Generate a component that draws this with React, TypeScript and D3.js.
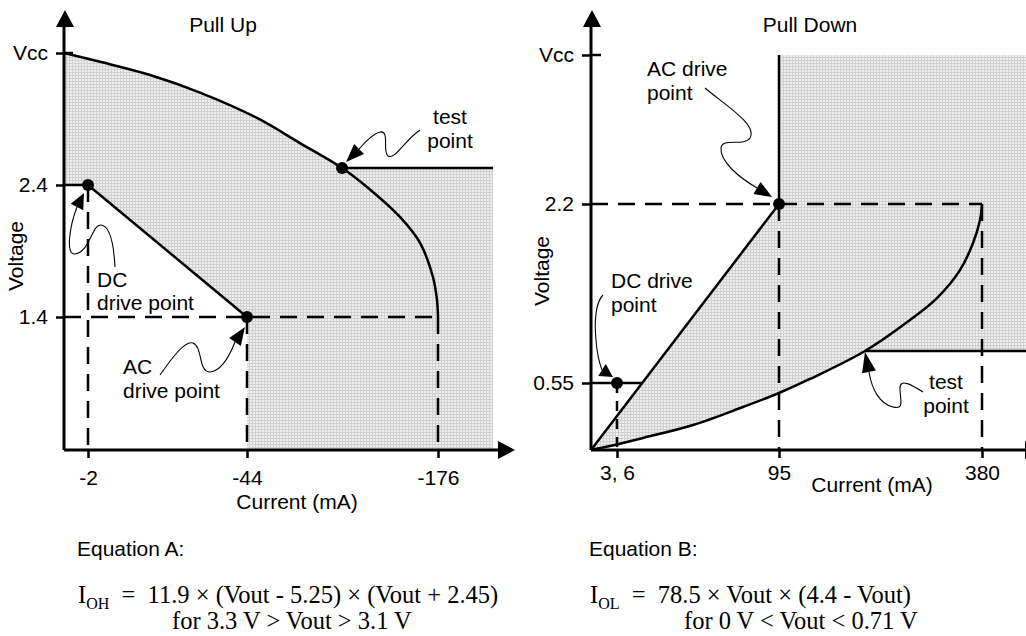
import React, { useEffect, useRef } from 'react'
import * as d3 from 'd3'

// Pull Up (left panel): current in mA, voltage in V
const upCurrentTicks = [-2, -44, -176]
const upVoltageTicks = [1.4, 2.4, 3.3]
const upVoltageLabels = ['1.4', '2.4', 'Vcc']
const upCurveCurrent = [0, -5.2, -18.4, -31.6, -50.9, -80.6, -109.7, -126.9, -149.7, -163.6, -172.5, -175.3, -176]
const upCurveVoltage = [3.3, 3.24, 3.15, 3.03, 2.857, 2.686, 2.516, 2.385, 2.158, 1.961, 1.703, 1.529, 1.4]
const upDcPoint = [-2, 2.4]
const upAcPoint = [-44, 1.4]
const upTestPoint = [-109.7, 2.516]
const upEdgeCurrent = -214

// Pull Down (right panel)
const downCurrentTicks = [6, 95, 380]
const downCurrentLabels = ['3, 6', '95', '380']
const downVoltageTicks = [0.55, 2.2, 3.3]
const downVoltageLabels = ['0.55', '2.2', 'Vcc']
const downCurveCurrent = [0, 4.4, 20.3, 47.8, 75.2, 95, 138.5, 215.7, 278.9, 316.8, 349.1, 367.4, 377.2, 380]
const downCurveVoltage = [0, 0.033, 0.099, 0.205, 0.353, 0.468, 0.587, 0.845, 1.131, 1.333, 1.591, 1.84, 2.052, 2.2]
const downDcPoint = [6, 0.55]
const downAcPoint = [95, 2.2]
const downTestPoint = [215.7, 0.845]
const downEdgeCurrent = 445

const SANS = '"Liberation Sans", Arial, sans-serif'
const SERIF = '"Liberation Serif", "Times New Roman", serif'
const DASH = '17,10'
const FS = 21

type Sel = d3.Selection<any, unknown, null, undefined>

function label(g: Sel, x: number, y: number, s: string, anchor = 'start', size = FS) {
  return g.append('text').attr('x', x).attr('y', y).attr('text-anchor', anchor)
    .attr('font-size', size).attr('font-family', SANS).attr('fill', '#000').text(s)
}

function line(g: Sel, x1: number, y1: number, x2: number, y2: number, dashed = false, w = 2.5) {
  const l = g.append('line').attr('x1', x1).attr('y1', y1).attr('x2', x2).attr('y2', y2)
    .attr('stroke', '#000').attr('stroke-width', w)
  if (dashed) l.attr('stroke-dasharray', DASH)
  return l
}

// squiggly pointer: path relative to the point, arrowhead ends at tip
function pointer(g: Sel, px: number, py: number, d: string, end: number[], tip: number[]) {
  const s = g.append('g').attr('transform', `translate(${px},${py})`)
  s.append('path').attr('d', d).attr('fill', 'none').attr('stroke', '#000').attr('stroke-width', 1.1)
  const dx = tip[0] - end[0], dy = tip[1] - end[1]
  const len = Math.hypot(dx, dy)
  const ux = dx / len, uy = dy / len
  const hw = 7
  const pts = [
    [tip[0], tip[1]],
    [end[0] - uy * hw, end[1] + ux * hw],
    [end[0] + uy * hw, end[1] - ux * hw],
  ]
  s.append('polygon').attr('points', pts.map(p => p.join(',')).join(' ')).attr('fill', '#000')
}

function arrowUp(g: Sel, x: number, top: number) {
  g.append('polygon').attr('points', `${x},${top} ${x - 9},${top + 17} ${x + 9},${top + 17}`).attr('fill', '#000')
}
function arrowRight(g: Sel, right: number, y: number) {
  g.append('polygon').attr('points', `${right},${y} ${right - 17},${y - 9} ${right - 17},${y + 9}`).attr('fill', '#000')
}

function styleAxis(ax: Sel) {
  ax.select('.domain').remove()
  ax.selectAll('line').attr('stroke', '#000').attr('stroke-width', 2.5)
  ax.selectAll('text').attr('font-size', FS).attr('font-family', SANS).attr('fill', '#000')
}

export default function App() {
  const ref = useRef<SVGSVGElement>(null)

  useEffect(() => {
    const svg = d3.select(ref.current)
    svg.selectAll('*').remove()

    const defs = svg.append('defs')
    const pat = defs.append('pattern').attr('id', 'shade').attr('width', 3).attr('height', 3)
      .attr('patternUnits', 'userSpaceOnUse')
    pat.append('rect').attr('width', 3).attr('height', 3).attr('fill', '#eeeeee')
    pat.append('rect').attr('width', 3).attr('height', 1).attr('fill', '#d0d0d0')
    pat.append('rect').attr('width', 1).attr('height', 3).attr('fill', '#d0d0d0')

    // ---------- Pull Up ----------
    {
      const g = svg.append('g')
      const x = d3.scaleLinear().domain([0, -2, -44, -176]).range([64, 88, 247, 438])
      const y = d3.scaleLinear().domain([0, 1.4, 2.4, 3.3]).range([450, 317, 185, 53])
      const curve = upCurveCurrent.map((c, i) => [x(c), y(upCurveVoltage[i])] as [number, number])
      const gen = d3.line().curve(d3.curveCatmullRom.alpha(0.5))
      const testIdx = upCurveCurrent.indexOf(upTestPoint[0])

      const shadePts: [number, number][] = [
        [x(upEdgeCurrent), y(upTestPoint[1])],
        [x(upEdgeCurrent), y(0)],
        [x(upAcPoint[0]), y(0)],
        [x(upAcPoint[0]), y(upAcPoint[1])],
        [x(upDcPoint[0]), y(upDcPoint[1])],
        [x(0), y(upDcPoint[1])],
      ]
      const shadePath = gen(curve.slice(0, testIdx + 1)) + shadePts.map(p => `L${p[0]},${p[1]}`).join('') + 'Z'
      g.append('path').attr('d', shadePath).attr('fill', 'url(#shade)')

      // dashed guides
      line(g, x(0), y(upAcPoint[1]), x(-176), y(upAcPoint[1]), true)
      line(g, x(upDcPoint[0]), y(upDcPoint[1]), x(upDcPoint[0]), y(0), true)
      line(g, x(upAcPoint[0]), y(upAcPoint[1]), x(upAcPoint[0]), y(0), true)
      line(g, x(-176), y(upAcPoint[1]), x(-176), y(0), true)

      // solid lines
      line(g, x(0), y(upDcPoint[1]), x(upDcPoint[0]), y(upDcPoint[1]))
      line(g, x(upDcPoint[0]), y(upDcPoint[1]), x(upAcPoint[0]), y(upAcPoint[1]))
      line(g, x(upTestPoint[0]), y(upTestPoint[1]), x(upEdgeCurrent), y(upTestPoint[1]))
      g.append('path').attr('d', gen(curve)).attr('fill', 'none').attr('stroke', '#000').attr('stroke-width', 2.5)

      // axes
      const ax = g.append('g').attr('transform', `translate(0,${y(0)})`)
        .call(d3.axisBottom(x).tickValues(upCurrentTicks).tickSize(8).tickPadding(12).tickFormat(d => String(d)))
      styleAxis(ax)
      const ay = g.append('g').attr('transform', `translate(${x(0)},0)`)
        .call(d3.axisLeft(y).tickValues(upVoltageTicks).tickSize(8).tickPadding(8)
          .tickFormat((d, i) => upVoltageLabels[i]))
      styleAxis(ay)
      line(g, x(0), y(3.3), x(0) + 9, y(3.3))
      line(g, x(0), y(0), x(0), 24, false, 3)
      line(g, x(0), y(0), 500, y(0), false, 3)
      arrowUp(g, x(0) + 1, 10)
      arrowRight(g, 515, y(0))

      // dots
      for (const p of [upDcPoint, upAcPoint, upTestPoint])
        g.append('circle').attr('cx', x(p[0])).attr('cy', y(p[1])).attr('r', 6).attr('fill', '#000')

      // text
      label(g, 223, 32, 'Pull Up', 'middle')
      label(g, 297, 509, 'Current (mA)', 'middle')
      label(g, 0, 0, 'Voltage', 'middle').attr('transform', 'translate(23,256) rotate(-90)')
      label(g, 450, 124, 'test', 'middle')
      label(g, 450, 148, 'point', 'middle')
      label(g, 97, 287, 'DC')
      label(g, 97, 310, 'drive point')
      label(g, 123, 374, 'AC')
      label(g, 123, 398, 'drive point')

      // pointers
      const t = [x(upTestPoint[0]), y(upTestPoint[1])]
      pointer(g, t[0], t[1], 'M78,-38 C63,-28 53,-8 46,-12 C40,-16 48,-38 38,-36 C30,-34 23,-26 17,-19', [17, -19], [4, -6])
      const dc = [x(upDcPoint[0]), y(upDcPoint[1])]
      pointer(g, dc[0], dc[1], 'M27,82 C26,63 23,41 13,40 C4,39 2,67 -13,69 C-23,70 -18,40 -11,22', [-11, 22], [-4, 8])
      const ac = [x(upAcPoint[0]), y(upAcPoint[1])]
      pointer(g, ac[0], ac[1], 'M-87,58 C-75,41 -62,23 -54,26 C-44,30 -49,55 -37,55 C-27,54 -19,43 -12,25', [-12, 25], [-2, 10])
    }

    // ---------- Pull Down ----------
    {
      const g = svg.append('g')
      const x = d3.scaleLinear().domain([0, 6, 95, 380]).range([591, 617, 779, 982])
      const y = d3.scaleLinear().domain([0, 0.55, 2.2, 3.3]).range([450, 383, 204, 55])
      const curve = downCurveCurrent.map((c, i) => [x(c), y(downCurveVoltage[i])] as [number, number])
      const gen = d3.line().curve(d3.curveCatmullRom.alpha(0.5))
      const testIdx = downCurveCurrent.indexOf(downTestPoint[0])

      const outline: [number, number][] = [
        [x(0), y(0)],
        [x(downAcPoint[0]), y(downAcPoint[1])],
        [x(downAcPoint[0]), y(3.3)],
        [x(downEdgeCurrent), y(3.3)],
        [x(downEdgeCurrent), y(downTestPoint[1])],
      ]
      const back = gen(curve.slice(0, testIdx + 1).reverse())!.replace(/^M/, 'L')
      const shadePath = 'M' + outline.map(p => p.join(',')).join('L') + back + 'Z'
      g.append('path').attr('d', shadePath).attr('fill', 'url(#shade)')

      // dashed guides
      line(g, x(0), y(downAcPoint[1]), x(380), y(downAcPoint[1]), true)
      line(g, x(downAcPoint[0]), y(downAcPoint[1]), x(downAcPoint[0]), y(0), true)
      line(g, x(380), y(downAcPoint[1]), x(380), y(0), true)
      line(g, x(downDcPoint[0]), y(downDcPoint[1]), x(downDcPoint[0]), y(0), true).attr('stroke-dasharray', '10,8')

      // solid lines
      const ix = x(0) + (y(downDcPoint[1]) - y(0)) / (y(downAcPoint[1]) - y(0)) * (x(downAcPoint[0]) - x(0))
      line(g, x(0), y(downDcPoint[1]), ix, y(downDcPoint[1]))
      line(g, x(0), y(0), x(downAcPoint[0]), y(downAcPoint[1]))
      line(g, x(downAcPoint[0]), y(downAcPoint[1]), x(downAcPoint[0]), y(3.3))
      line(g, x(downTestPoint[0]), y(downTestPoint[1]), x(downEdgeCurrent), y(downTestPoint[1]))
      g.append('path').attr('d', gen(curve)).attr('fill', 'none').attr('stroke', '#000').attr('stroke-width', 2.5)

      // axes
      const ax = g.append('g').attr('transform', `translate(0,${y(0)})`)
        .call(d3.axisBottom(x).tickValues(downCurrentTicks).tickSize(8).tickPadding(7)
          .tickFormat((d, i) => downCurrentLabels[i]))
      styleAxis(ax)
      const ay = g.append('g').attr('transform', `translate(${x(0)},0)`)
        .call(d3.axisLeft(y).tickValues(downVoltageTicks).tickSize(9).tickPadding(8)
          .tickFormat((d, i) => downVoltageLabels[i]))
      styleAxis(ay)
      line(g, x(0), y(3.3), x(0) + 10, y(3.3))
      line(g, x(0), y(0), x(0), 24, false, 3)
      line(g, x(0), y(0), 1030, y(0), false, 3)
      arrowUp(g, x(0) + 1, 10)
      arrowRight(g, 1042, y(0))

      for (const p of [downDcPoint, downAcPoint])
        g.append('circle').attr('cx', x(p[0])).attr('cy', y(p[1])).attr('r', 6).attr('fill', '#000')

      label(g, 810, 32, 'Pull Down', 'middle')
      label(g, 872, 492, 'Current (mA)', 'middle')
      label(g, 0, 0, 'Voltage', 'middle').attr('transform', 'translate(549,271) rotate(-90)')
      label(g, 647, 76, 'AC drive')
      label(g, 647, 100, 'point')
      label(g, 611, 288, 'DC drive')
      label(g, 611, 312, 'point')
      label(g, 946, 389, 'test', 'middle')
      label(g, 946, 413, 'point', 'middle')

      const ac = [x(downAcPoint[0]), y(downAcPoint[1])]
      pointer(g, ac[0], ac[1], 'M-74,-116 C-54,-99 -21,-79 -29,-66 C-35,-57 -57,-67 -58,-56 C-59,-42 -39,-26 -22,-16', [-22, -16], [-7, -7])
      const dc = [x(downDcPoint[0]), y(downDcPoint[1])]
      pointer(g, dc[0], dc[1], 'M-14,-88 C-21,-81 -23,-63 -21,-43 C-20,-28 -18,-21 -15,-13', [-15, -13], [-4, -6])
      const t = [x(downTestPoint[0]), y(downTestPoint[1])]
      pointer(g, t[0], t[1], 'M58,41 C47,34 35,27 35,37 C35,49 40,59 28,56 C15,53 7,39 4,21', [4, 21], [0, 1])
    }

    // ---------- equations ----------
    const eq = (x0: number, title: string, sub: string, body: string, cond: string, condX: number) => {
      label(svg, x0, 556, title)
      const t = svg.append('text').attr('x', x0 + 1).attr('y', 603).attr('font-family', SERIF)
        .attr('font-size', 24.5).style('white-space', 'pre')
      t.append('tspan').text('I')
      t.append('tspan').attr('dy', 6).attr('font-size', 16).text(sub)
      t.append('tspan').attr('dy', -6).text(body)
      svg.append('text').attr('x', condX).attr('y', 629).attr('font-family', SERIF)
        .attr('font-size', 24.5).style('white-space', 'pre').text(cond)
    }
    eq(77, 'Equation A:', 'OH', '  =  11.9 × (Vout - 5.25) × (Vout + 2.45)', 'for 3.3 V > Vout > 3.1 V', 172)
    eq(589, 'Equation B:', 'OL', '  =  78.5 × Vout × (4.4 - Vout)', 'for 0 V < Vout < 0.71 V', 684)
  }, [])

  return (
    <svg ref={ref} width={1026} height={636}
      style={{ position: 'absolute', left: 0, top: 0, background: '#fff', display: 'block' }} />
  )
}
